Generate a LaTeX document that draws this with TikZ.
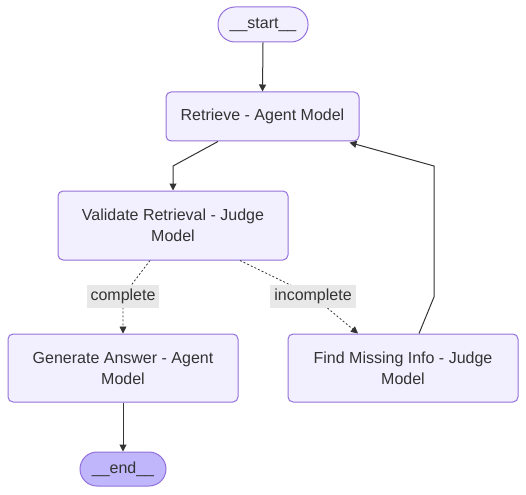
\documentclass[tikz,border=0pt]{standalone}
\usepackage{fontspec}
\setmainfont{Liberation Sans}
\usetikzlibrary{arrows.meta,calc}
\definecolor{boxfill}{HTML}{F2F0FF}
\definecolor{boxline}{HTML}{9370DB}
\definecolor{endfill}{HTML}{BFB6FC}
\definecolor{lblfill}{HTML}{E8E8E8}
\definecolor{ink}{HTML}{333333}
\tikzset{
  box/.style={draw=boxline, fill=boxfill, line width=1pt, rounded corners=5pt, align=center,
    text=ink, font=\fontsize{16}{21}\selectfont, minimum width=230pt, minimum height=68pt},
  pill/.style={draw=boxline, fill=boxfill, line width=1pt, rounded corners=17pt, text=ink,
    font=\fontsize{16}{21}\selectfont, minimum height=35pt},
  lbl/.style={fill=lblfill, text=ink, font=\fontsize{16}{21}\selectfont, inner xsep=4pt,
    inner ysep=2pt, minimum height=23pt},
  edge/.style={-{Triangle[length=7pt, width=7pt]}, ink, line width=1pt},
  faintedge/.style={-{Triangle[length=7pt, width=7pt]}, ink, line width=0.8pt, dash pattern=on 2pt off 2pt}
}
\begin{document}
\begin{tikzpicture}[x=1pt, y=-1pt]
\useasboundingbox (0,0) rectangle (526,494);
\node[pill, minimum width=90pt] (start) at (263,24.5) {\_\_start\_\_};
\node[box, minimum width=193pt, minimum height=49pt] (retrieve) at (262.5,116.5) {Retrieve - Agent Model};
\node[box, minimum height=69pt] (validate) at (173,225.5) {Validate Retrieval - Judge\\Model};
\node[box] (generate) at (123,368) {Generate Answer - Agent\\Model};
\node[box] (find) at (403,368) {Find Missing Info - Judge\\Model};
\node[pill, minimum width=86pt, minimum height=34pt, fill=endfill] (end) at (123,469) {\_\_end\_\_};
% bends
\coordinate (b1) at (173,166);
\coordinate (b2) at (123,296);
\coordinate (b3) at (313,296);
\coordinate (b4) at (434,297);
\coordinate (b5) at (434,166);
\draw[edge] (start.south) -- (retrieve.north);
\draw[edge] ($(retrieve.south)+(-44.5,0)$) -- (b1) -- (validate.north);
\draw[faintedge] ($(validate.south)+(-23,0)$) -- (b2) node[lbl]{complete} -- (generate.north);
\draw[faintedge] ($(validate.south)+(67,0)$) -- (b3) node[lbl]{incomplete} -- ($(find.north)+(-45,0)$);
\draw[edge] ($(find.north)+(16,0)$) -- (b4) -- (b5) -- ($(retrieve.south east)+(-10,1)$);
\draw[edge] (generate.south) -- (end.north);
\end{tikzpicture}
\end{document}
